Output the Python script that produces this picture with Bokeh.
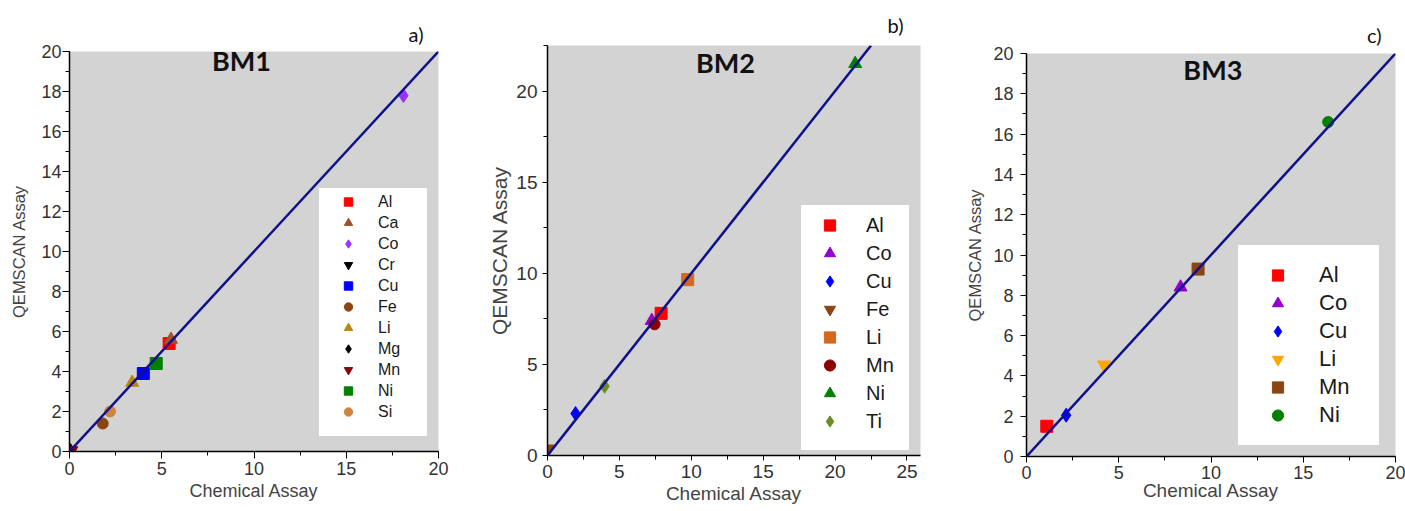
from bokeh.plotting import figure
from bokeh.layouts import row
from bokeh.models import Range1d, Slope, Label, SingleIntervalTicker
from bokeh.embed import file_html
from bokeh.resources import INLINE

# ---------------- data ----------------
# BM1
bm1_elements = ["Al", "Ca", "Co", "Cr", "Cu", "Fe", "Li", "Mg", "Mn", "Ni", "Si"]
bm1_chemical = [5.4, 5.5, 18.1, 0.05, 4.0, 1.8, 3.4, 0.05, 0.1, 4.7, 2.2]
bm1_qemscan = [5.4, 5.6, 17.8, 0.0, 3.9, 1.4, 3.45, 0.05, 0.05, 4.4, 2.0]

# BM2
bm2_elements = ["Al", "Co", "Cu", "Fe", "Li", "Mn", "Ni", "Ti"]
bm2_chemical = [7.9, 7.25, 1.95, 0.05, 9.75, 7.45, 21.4, 3.97]
bm2_qemscan = [7.8, 7.4, 2.3, 0.37, 9.65, 7.2, 21.5, 3.8]

# BM3
bm3_elements = ["Al", "Co", "Cu", "Li", "Mn", "Ni"]
bm3_chemical = [1.1, 8.35, 2.15, 4.2, 9.3, 16.35]
bm3_qemscan = [1.5, 8.4, 2.05, 4.55, 9.3, 16.6]

# ---------------- styles ----------------
bm1_markers = ["square", "triangle", "diamond", "inverted_triangle", "square", "circle",
               "triangle", "diamond", "inverted_triangle", "square", "circle"]
bm1_colors = ["#ff0000", "#a0522d", "#9933ff", "#000000", "#0000ff", "#8b4513",
              "#b8860b", "#000000", "#8b0000", "#008000", "#cd853f"]
bm2_markers = ["square", "triangle", "diamond", "inverted_triangle", "square", "circle",
               "triangle", "diamond"]
bm2_colors = ["#ff0000", "#9400d3", "#0000ff", "#8b4513", "#d2691e", "#8b0000",
              "#008000", "#6b8e23"]
bm3_markers = ["square", "triangle", "diamond", "inverted_triangle", "square", "circle"]
bm3_colors = ["#ff0000", "#9400d3", "#0000ff", "#ffa500", "#8b4513", "#008000"]

MARKER_SIZE = {"square": 12, "triangle": 13, "diamond": 14, "inverted_triangle": 13, "circle": 11}

panels = [
    dict(elements=bm1_elements, chem=bm1_chemical, qem=bm1_qemscan, markers=bm1_markers,
         colors=bm1_colors, title="BM1", tag="a)", width=470, xmax=20, ymax=20,
         yint=2, mb=(51, 32, 60, 69), tick_font="18px", ylab_font="16.5px", xlab_font="18px",
         tick_out=7, ylab_stand=10, xlab_stand=3, ytick_stand=1, xtick_stand=3,
         title_xy=(9.32, 19.55), tag_offset=15, tag_standoff=11,
         leg=dict(loc=(250, 15), h=21, b=3, gw=52, stand=4, lw=46, font="16px", tail=10)),
    dict(elements=bm2_elements, chem=bm2_chemical, qem=bm2_qemscan, markers=bm2_markers,
         colors=bm2_colors, title="BM2", tag="b)", width=470, xmax=25.94, ymax=22.5,
         yint=5, mb=(45, 20, 56, 77), tick_font="19px", ylab_font="21px", xlab_font="19px",
         tick_out=5, ylab_stand=2, xlab_stand=2, ytick_stand=5, xtick_stand=4,
         title_xy=(12.37, 21.55), tag_offset=17, tag_standoff=18,
         leg=dict(loc=(254, 5), h=28, b=6, gw=45, stand=14, lw=37, font="20px", tail=8)),
    dict(elements=bm3_elements, chem=bm3_chemical, qem=bm3_qemscan, markers=bm3_markers,
         colors=bm3_colors, title="BM3", tag="c)", width=465, xmax=20, ymax=20,
         yint=2, mb=(53, 10, 55, 86), tick_font="18px", ylab_font="16.5px", xlab_font="19px",
         tick_out=6, ylab_stand=6, xlab_stand=-2, ytick_stand=7, xtick_stand=3,
         title_xy=(10.1, 19.2), tag_offset=14, tag_standoff=14,
         leg=dict(loc=(212, 11), h=28, b=16, gw=47, stand=18, lw=44, font="22px", tail=0)),
]


def make_panel(c):
    top, right, bottom, left = c["mb"]
    p = figure(width=c["width"], height=511,
               x_range=Range1d(0, c["xmax"]), y_range=Range1d(0, c["ymax"]),
               output_backend="svg", toolbar_location=None,
               min_border_top=top, min_border_right=right,
               min_border_bottom=bottom, min_border_left=left)
    p.frame_align = False
    p.background_fill_color = "#d3d3d3"
    p.border_fill_color = "white"
    p.outline_line_color = None
    p.grid.visible = False

    p.add_layout(Slope(gradient=1, y_intercept=0, line_color="#10108c", line_width=2.5))

    for el, x, y, m, col in zip(c["elements"], c["chem"], c["qem"], c["markers"], c["colors"]):
        p.scatter([x], [y], marker=m, size=MARKER_SIZE[m], color=col, legend_label=el)

    p.xaxis.ticker = SingleIntervalTicker(interval=5, num_minor_ticks=2)
    p.yaxis.ticker = SingleIntervalTicker(interval=c["yint"], num_minor_ticks=2)
    for ax in (p.xaxis[0], p.yaxis[0]):
        ax.axis_line_color = "black"
        ax.axis_line_width = 1.5
        ax.major_tick_line_color = "black"
        ax.minor_tick_line_color = "black"
        ax.major_tick_in = 0
        ax.minor_tick_in = 0
        ax.major_tick_out = c["tick_out"]
        ax.minor_tick_out = 4
        ax.major_label_text_font = "Liberation Sans"
        ax.major_label_text_font_size = c["tick_font"]
        ax.major_label_text_color = "#333333"
        ax.axis_label_text_font = "Liberation Sans"
        ax.axis_label_text_font_style = "normal"
        ax.axis_label_text_color = "#444444"
    p.xaxis.axis_label = "Chemical Assay"
    p.yaxis.axis_label = "QEMSCAN Assay"
    p.xaxis.axis_label_text_font_size = c["xlab_font"]
    p.yaxis.axis_label_text_font_size = c["ylab_font"]
    p.xaxis.axis_label_standoff = c["xlab_stand"]
    p.yaxis.axis_label_standoff = c["ylab_stand"]
    p.xaxis.major_label_standoff = c["xtick_stand"]
    p.yaxis.major_label_standoff = c["ytick_stand"]

    # panel tag (a), b), c)) as the figure title, right-aligned above the frame
    p.title.text = c["tag"]
    p.title.align = "right"
    p.title.offset = c["tag_offset"]
    p.title.standoff = c["tag_standoff"]
    p.title.text_font = "Lato"
    p.title.text_font_style = "normal"
    p.title.text_font_size = "20px"
    p.title.text_color = "#111111"

    tx, ty = c["title_xy"]
    p.add_layout(Label(x=tx, y=ty, text=c["title"], text_font="Lato", text_font_style="bold",
                       text_font_size="27px", text_color="#111111",
                       text_align="center", text_baseline="middle"))

    lg = c["leg"]
    leg = p.legend[0]
    leg.location = lg["loc"]
    leg.glyph_height = lg["h"]
    leg.glyph_width = lg["gw"]
    leg.label_height = lg["h"]
    leg.spacing = 0
    leg.padding = 0
    leg.margin = 0
    leg.label_standoff = lg["stand"]
    leg.label_width = lg["lw"]
    leg.label_text_font = "Liberation Sans"
    leg.label_text_font_size = lg["font"]
    leg.label_text_color = "#1a1a1a"
    # white border acts as the inner padding of the legend box
    leg.border_line_color = "white"
    leg.border_line_width = lg["b"]
    leg.border_line_join = "miter"
    leg.background_fill_color = "white"
    leg.background_fill_alpha = 1.0
    if lg["tail"]:
        leg.title = " "
        leg.title_location = "below"
        leg.title_standoff = 0
        leg.title_text_font_size = f'{lg["tail"]}px'
    return p


figs = [make_panel(c) for c in panels]
layout = row(*figs, spacing=0)

with open("out.html", "w") as f:
    f.write(file_html(layout, INLINE))
